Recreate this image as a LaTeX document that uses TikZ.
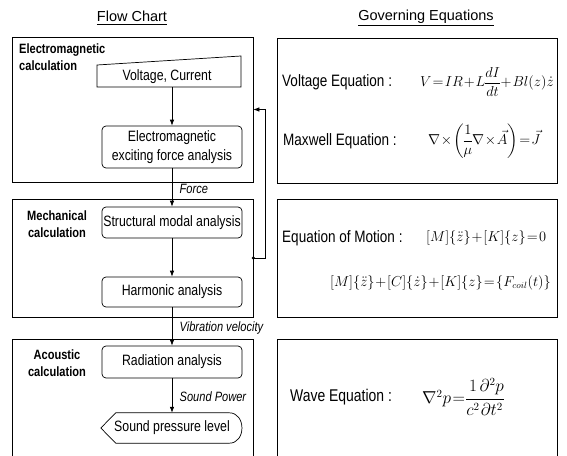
\documentclass[tikz,border=0pt]{standalone}
\usepackage{amsmath}
\usepackage{fontspec}
\setmainfont{Liberation Sans}[FakeStretch=0.82]
\newfontfamily\titlefont{Liberation Sans}
\usetikzlibrary{arrows.meta}
\newcommand{\tightm}{\medmuskip=1mu\thickmuskip=1.5mu\thinmuskip=1mu\nulldelimiterspace=0pt}
\tikzset{
 panel/.style={draw, line width=0.7pt, inner sep=0pt},
 procbox/.style={draw, rounded corners=4pt, minimum width=140pt, line width=0.7pt, align=center, inner sep=1pt, font=\fontsize{15}{18.5}\selectfont},
 flow/.style={-{Latex[length=6pt,width=4.5pt]}, line width=0.7pt},
 flowlabel/.style={font=\fontsize{13.5}{16}\selectfont\itshape, anchor=west, xshift=4pt},
 calclabel/.style={font=\fontsize{13.5}{17}\selectfont\bfseries},
 eqlabel/.style={font=\fontsize{16.5}{19}\selectfont, anchor=west, inner sep=0pt},
 eqn/.style={font=\fontsize{14.5}{17}\selectfont, inner sep=0pt},
 titletext/.style={font=\titlefont\fontsize{14.5}{17}\selectfont}
}
\begin{document}
\begin{tikzpicture}[x=1pt,y=-1pt]
\useasboundingbox (0,0) rectangle (567,455);
% titles
\node[titletext] (t1) at (132,18) {\underline{Flow Chart}};
\node[titletext] (t2) at (426,18) {\underline{Governing Equations}};
% left panels
\node[panel, minimum width=241pt, minimum height=145pt] (p1) at (132.5,109.5) {};
\node[panel, minimum width=241pt, minimum height=118pt] (p2) at (132.5,258) {};
\draw[line width=0.7pt] (12,456) -- (12,339) -- (253,339) -- (253,456);
% right panels
\node[panel, minimum width=280pt, minimum height=145pt] (r1) at (417,110.5) {};
\node[panel, minimum width=280pt, minimum height=118pt] (r2) at (417,258) {};
\draw[line width=0.7pt] (277,456) -- (277,339) -- (557,339) -- (557,456);
% calc labels
\node[calclabel, anchor=north west, align=left, inner sep=0pt] (l1) at (19,44) {Electromagnetic\\calculation};
\node[calclabel, align=center] (l2) at (57,224) {Mechanical\\calculation};
\node[calclabel, align=center] (l3) at (57,363) {Acoustic\\calculation};
% flow nodes
\draw[line width=0.7pt] (97,65) -- (241,56) -- (241,87) -- (97,87) -- cycle;
\node[font=\fontsize{15}{18.5}\selectfont, minimum height=20pt, inner sep=0pt] (vc) at (167,77) {Voltage, Current};
\node[procbox, minimum height=42pt] (em) at (172,147) {Electromagnetic\\exciting force analysis};
\node[procbox, minimum height=31pt] (st) at (172,222.5) {Structural modal analysis};
\node[procbox, minimum height=30pt] (ha) at (172,292) {Harmonic analysis};
\node[procbox, minimum height=32pt] (ra) at (172,362) {Radiation analysis};
\node[minimum width=142pt, minimum height=30pt, inner sep=0pt, font=\fontsize{15}{18.5}\selectfont] (spl) at (172,428) {Sound pressure level};
\draw[line width=0.7pt] (spl.west) -- ([xshift=15pt]spl.north west) -- ([xshift=-14pt]spl.north east)
  .. controls ([xshift=3pt]spl.north east) and ([xshift=3pt]spl.south east) .. ([xshift=-14pt]spl.south east)
  -- ([xshift=15pt]spl.south west) -- cycle;
% connectors
\draw[flow] (em.north |- vc.south) -- (em.north);
\draw[flow] (em.south) -- node[flowlabel, yshift=-1pt]{Force} (st.north);
\draw[flow] (st.south) -- (ha.north);
\draw[flow] (ha.south) -- node[flowlabel, yshift=-2pt]{Vibration velocity} (ra.north);
\draw[flow] (ra.south) -- node[flowlabel, yshift=-1.5pt]{Sound Power} (ra.south |- spl.north);
\fill (p2.east) circle (1.8pt);
\draw[flow] (p2.east) -- ++(12,0) |- (p1.east);
% equations
\node[eqlabel] (e1l) at (282,82) {Voltage Equation :};
\node[eqn, anchor=east] (e1) at (554,82) {$\tightm V=IR+L\dfrac{dI}{dt}+Bl(z)\dot z$};
\node[eqlabel] (e2l) at (283,141) {Maxwell Equation :};
\node[eqn, anchor=west] (e2) at (428,141) {$\tightm\nabla\times\left(\dfrac{1}{\mu}\nabla\times\vec{A}\right)=\vec{J}$};
\node[eqlabel] (e3l) at (282,238) {Equation of Motion :};
\node[eqn, anchor=west] (e3) at (426,238) {$\tightm[M]\{\ddot z\}+[K]\{z\}=0$};
\node[eqn, anchor=east, font=\fontsize{13.5}{16}\selectfont] (e4) at (551,283) {$\tightm[M]\{\ddot z\}+[C]\{\dot z\}+[K]\{z\}=\{F_{coil}(t)\}$};
\node[eqlabel, font=\fontsize{17}{20}\selectfont] (e5l) at (290,397) {Wave Equation :};
\node[eqn, anchor=west, font=\fontsize{16}{19}\selectfont] (e5) at (422,397) {$\tightm\nabla^2 p=\dfrac{1}{c^2}\dfrac{\partial^2 p}{\partial t^2}$};
\end{tikzpicture}
\end{document}
